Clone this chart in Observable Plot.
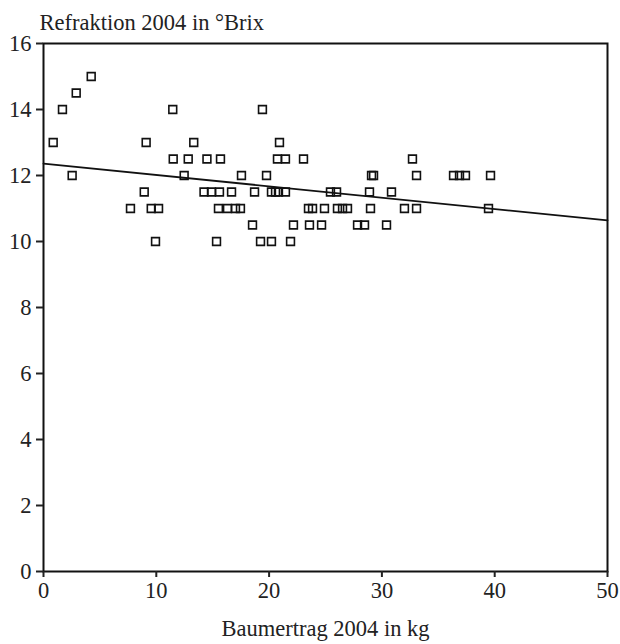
<!DOCTYPE html>
<html>
<head>
<meta charset="utf-8">
<script src="https://cdn.jsdelivr.net/npm/d3@7"></script>
<script src="https://cdn.jsdelivr.net/npm/@observablehq/plot@0.6"></script>
<style>
  html, body { margin: 0; padding: 0; background: #fff; }
</style>
</head>
<body>
<div id="chart"></div>
<script>
// Baumertrag 2004 in kg (x) and Refraktion 2004 in °Brix (y)
const ertrag = [
  4.23,
  2.90,
  1.68, 11.46, 19.41,
  0.86, 9.10, 13.32, 20.92,
  11.50, 12.83, 14.49, 15.69, 20.74, 21.45, 23.05, 32.71,
  2.54, 12.47, 17.55, 19.77, 29.08, 29.26, 33.07, 36.35, 36.88, 37.41, 39.63,
  8.93, 14.23, 14.89, 15.60, 16.67, 18.71, 20.21, 20.57, 20.83, 21.45, 25.44, 25.98, 28.90, 30.85,
  7.71, 9.55, 10.20, 15.51, 16.31, 17.02, 17.46, 23.49, 23.85, 24.91, 26.06, 26.51, 26.95, 28.99, 32.00, 33.07, 39.45,
  18.53, 22.16, 23.58, 24.65, 27.84, 28.46, 30.41,
  9.93, 15.34, 19.24, 20.21, 21.90
];
const brix = [
  15,
  14.5,
  14, 14, 14,
  13, 13, 13, 13,
  12.5, 12.5, 12.5, 12.5, 12.5, 12.5, 12.5, 12.5,
  12, 12, 12, 12, 12, 12, 12, 12, 12, 12, 12,
  11.5, 11.5, 11.5, 11.5, 11.5, 11.5, 11.5, 11.5, 11.5, 11.5, 11.5, 11.5, 11.5, 11.5,
  11, 11, 11, 11, 11, 11, 11, 11, 11, 11, 11, 11, 11, 11, 11, 11, 11,
  10.5, 10.5, 10.5, 10.5, 10.5, 10.5, 10.5,
  10, 10, 10, 10, 10
];
// trend line as drawn in the reference
const trendIntercept = 12.36;
const trendSlope = -0.0344;

const xTicks = [0, 10, 20, 30, 40, 50];
const yTicks = [0, 2, 4, 6, 8, 10, 12, 14, 16];
const xDomain = [0, 50];
const yDomain = [0, 16];

const points = ertrag.map((x, i) => ({x, y: brix[i]}));
const fit = xDomain.map(x => ({x, y: trendIntercept + trendSlope * x}));

const chart = Plot.plot({
  width: 620,
  height: 644,
  marginLeft: 43,
  marginRight: 13,
  marginTop: 43,
  marginBottom: 73,
  style: {fontFamily: "Liberation Serif, serif", fontSize: "22.5px", color: "#222", background: "#fff"},
  x: {domain: xDomain},
  y: {domain: yDomain},
  marks: [
    Plot.frame({stroke: "#111", strokeWidth: 2}),
    Plot.axisX({ticks: xTicks, tickSize: 6, tickPadding: 5, strokeWidth: 2, label: null, fontSize: 22.5}),
    Plot.axisY({ticks: yTicks, tickSize: 7, tickPadding: 5, strokeWidth: 2, label: null, fontSize: 22.5}),
    Plot.line(fit, {x: "x", y: "y", stroke: "#111", strokeWidth: 1.8}),
    Plot.dot(points, {x: "x", y: "y", symbol: "square", r: 4.4, stroke: "#111", strokeWidth: 1.6, fill: "white", fillOpacity: 0}),
    Plot.text(["Refraktion 2004 in °Brix"], {frameAnchor: "top-left", textAnchor: "start", dx: -4, dy: -29, fontSize: 22.5, fill: "#222"}),
    Plot.text(["Baumertrag 2004 in kg"], {frameAnchor: "bottom", dy: 64, fontSize: 22.5, fill: "#222"})
  ]
});
document.getElementById("chart").appendChild(chart);
</script>
</body>
</html>
